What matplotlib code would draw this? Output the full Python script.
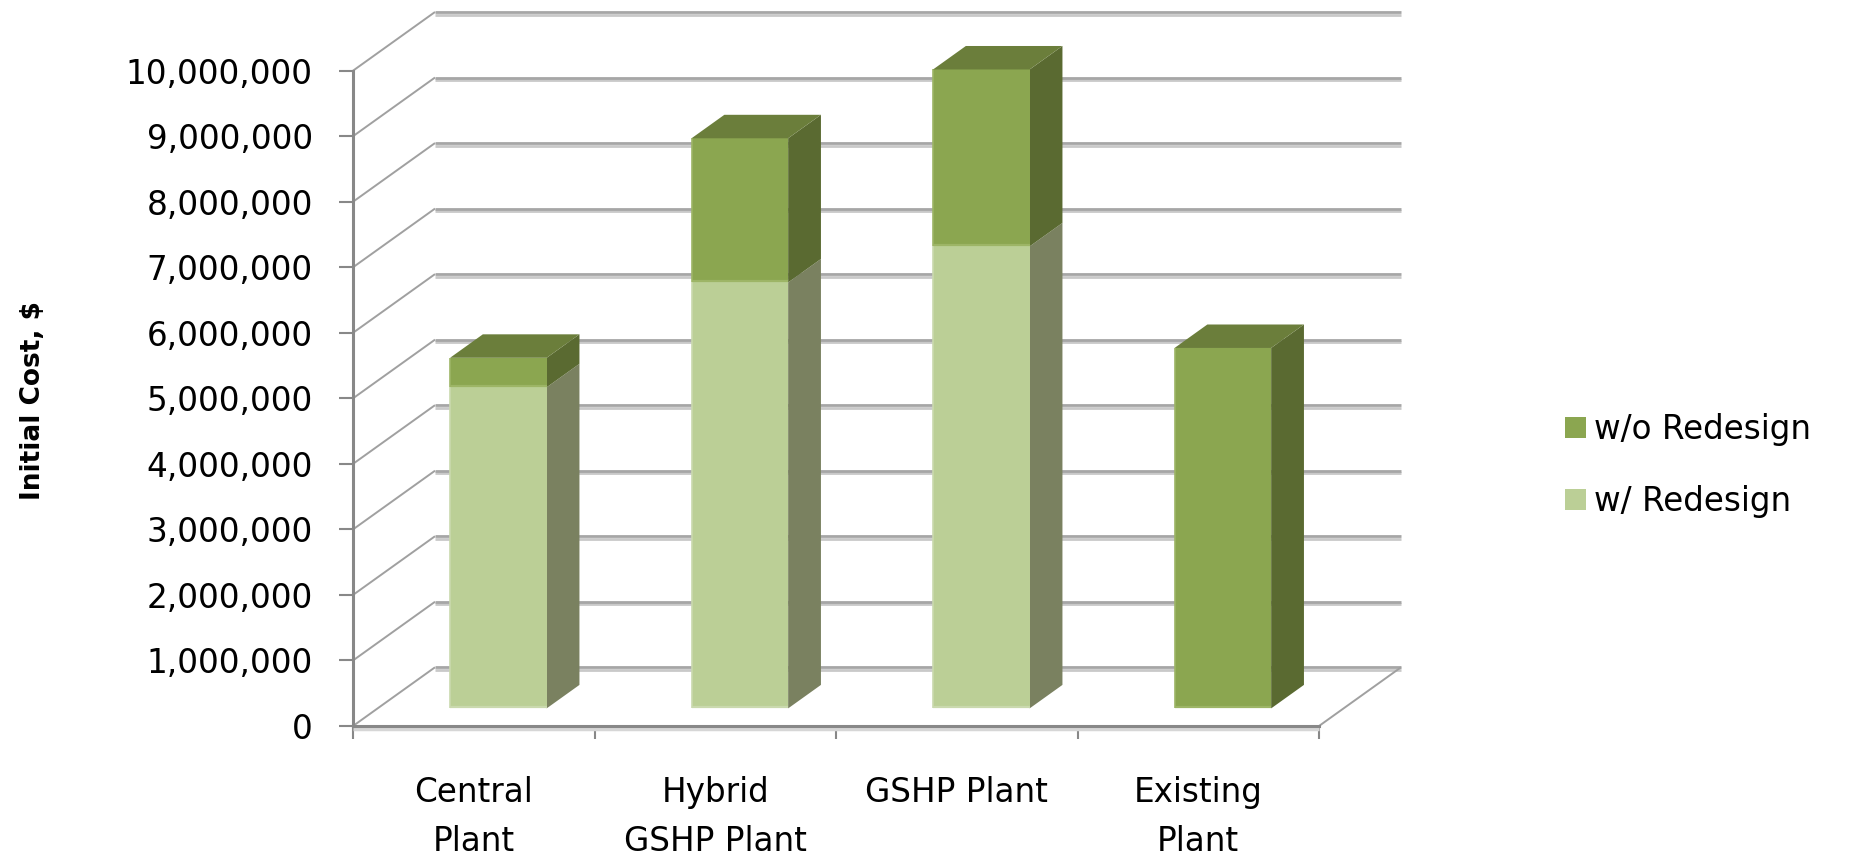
import matplotlib
matplotlib.use("Agg")
import matplotlib.pyplot as plt
from matplotlib.patches import Polygon, Patch
from matplotlib.lines import Line2D
from matplotlib.transforms import IdentityTransform
from matplotlib.ticker import FuncFormatter, FixedLocator
import numpy as np

# ---- data -------------------------------------------------------------
categories = ["Central\nPlant", "Hybrid\nGSHP Plant", "GSHP Plant", "Existing\nPlant"]
with_redesign = [4_900_000, 6_500_000, 7_050_000, 0]
without_redesign_extra = [450_000, 2_200_000, 2_700_000, 5_500_000]
series_labels = ["w/ Redesign", "w/o Redesign"]
y_ticks = list(range(0, 10_000_001, 1_000_000))
y_label = "Initial Cost, $"

# ---- styling ----------------------------------------------------------
W, H, DPI = 1852, 855, 100
DX, DY = 82.0, 58.7          # oblique depth offset of the back wall (pixels)
F0, F1 = 0.3, 0.7            # depth range occupied by the columns
HALF = 0.2                   # half column width in category units
FS = 23.5

col_w = dict(front="#BBCF96", side="#7A8160", top="#A3B87C",
             edge="#CAD9AE")
col_wo = dict(front="#8BA650", side="#5A6A31", top="#6B7E3B",
              edge="#9DB566")
grid_dark, grid_light = "#A6A6A6", "#C9C9C9"
axis_grey = "#888888"

fig = plt.figure(figsize=(W / DPI, H / DPI), dpi=DPI)
ax = fig.add_axes([353 / W, (H - 726) / H, 966 / W, (726 - 70.7) / H])
ax.set_xlim(-0.5, len(categories) - 0.5)
ax.set_ylim(0, 10_000_000)
ax.patch.set_visible(False)
for s in ("top", "right"):
    ax.spines[s].set_visible(False)
for s in ("left", "bottom"):
    ax.spines[s].set_color(axis_grey)
    ax.spines[s].set_linewidth(2.2)
    ax.spines[s].set_zorder(6)

ident = IdentityTransform()


def to_px(x, v, depth):
    px, py = ax.transData.transform((x, v))
    return (px + depth * DX, py + depth * DY)


def seg(p, q, color, lw, z, dy=0.0):
    ax.add_artist(Line2D([p[0], q[0]], [p[1] + dy, q[1] + dy], color=color,
                         lw=lw, transform=ident, clip_on=False, zorder=z,
                         solid_capstyle="butt"))


x_lo, x_hi = -0.5, len(categories) - 0.5

# back wall gridlines and left wall diagonals
for v in y_ticks:
    a, b = to_px(x_lo, v, 1), to_px(x_hi, v, 1)
    seg(a, b, grid_light, 2.0, 1, dy=-2.6)
    seg(a, b, grid_dark, 2.0, 1.1)
    seg(to_px(x_lo, v, 0), to_px(x_lo, v, 1), "#A0A0A0", 1.4, 1.2)

# floor front highlight and right floor edge
seg(to_px(x_lo, 0, 0), to_px(x_hi, 0, 0), "#D6D6D6", 2.5, 5, dy=-3.0)
seg(to_px(x_hi, 0, 0), to_px(x_hi, 0, 1), "#A0A0A0", 1.4, 1.2)


def poly(pts, fc, ec=None, lw=0.0, z=3):
    ax.add_artist(Polygon(pts, closed=True, facecolor=fc,
                          edgecolor=ec if ec else fc, lw=lw,
                          transform=ident, clip_on=False, zorder=z))


def column(i, lo, hi, c, draw_top):
    xl, xr = i - HALF, i + HALF
    front = [to_px(xl, lo, F0), to_px(xr, lo, F0), to_px(xr, hi, F0), to_px(xl, hi, F0)]
    side = [to_px(xr, lo, F0), to_px(xr, lo, F1), to_px(xr, hi, F1), to_px(xr, hi, F0)]
    top = [to_px(xl, hi, F0), to_px(xr, hi, F0), to_px(xr, hi, F1), to_px(xl, hi, F1)]
    poly(side, c["side"], z=3)
    poly(front, c["front"], z=3.2)
    # light bevel along the left and bottom edges of the front face
    seg(front[0], front[3], c["edge"], 1.2, 3.3)
    seg(front[0], front[1], c["edge"], 1.6, 3.3, dy=1.0)
    if draw_top:
        poly(top, c["top"], z=3.4)


for i in range(len(categories)):
    base = 0
    if with_redesign[i] > 0:
        column(i, 0, with_redesign[i], col_w, without_redesign_extra[i] <= 0)
        base = with_redesign[i]
    if without_redesign_extra[i] > 0:
        column(i, base, base + without_redesign_extra[i], col_wo, True)

# ---- axes ticks -------------------------------------------------------
ax.yaxis.set_major_locator(FixedLocator(y_ticks))
ax.yaxis.set_major_formatter(FuncFormatter(lambda v, _: f"{v:,.0f}"))
ax.tick_params(axis="y", direction="out", length=10, width=1.5,
               color=axis_grey, pad=19, labelsize=FS, labelcolor="black")

ax.set_xticks(np.arange(len(categories) + 1) - 0.5)
ax.set_xticklabels([])
ax.set_xticks(np.arange(len(categories)), minor=True)
ax.set_xticklabels(categories, minor=True, fontsize=FS, linespacing=1.62,
                   va="top", ha="center")
ax.tick_params(axis="x", which="major", direction="out", length=9.4,
               width=1.5, color=axis_grey)
ax.tick_params(axis="x", which="minor", length=0, pad=36)

fig.text(33 / W, (H - 401) / H, y_label, rotation=90, fontsize=19,
         fontweight="bold", ha="center", va="center")

handles = [Patch(facecolor=col_wo["front"], label=series_labels[1]),
           Patch(facecolor=col_w["front"], label=series_labels[0])]
fig.legend(handles=handles, loc="center left",
           bbox_to_anchor=(1565 / W, (H - 465.5) / H), frameon=False,
           fontsize=FS, handlelength=0.64, handleheight=0.64,
           handletextpad=0.25, labelspacing=1.2, borderpad=0,
           borderaxespad=0)

fig.savefig("out.png", dpi=DPI, facecolor="white")
